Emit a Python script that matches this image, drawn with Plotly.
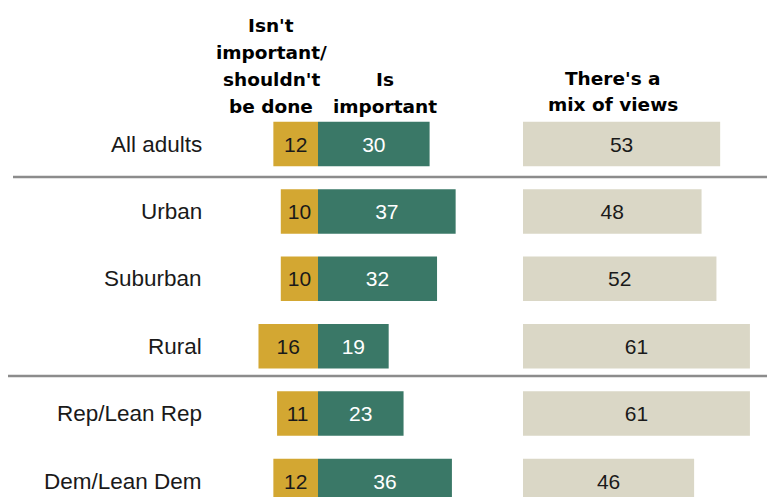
import plotly.graph_objects as go

# Survey groups and shares (%)
groups = ["All adults", "Urban", "Suburban", "Rural", "Rep/Lean Rep", "Dem/Lean Dem"]
not_important = [12, 10, 10, 16, 11, 12]
is_important = [30, 37, 32, 19, 23, 36]
mix_of_views = [53, 48, 52, 61, 61, 46]

header_not = ["Isn't", "important/", "shouldn't", "be done"]
header_is = ["Is", "important"]
header_mix = ["There's a", "mix of views"]

W, H = 767, 497
PX_PER_UNIT = 3.72
ZERO_DIV = 318      # pixel x of the diverging axis zero
ZERO_MIX = 523      # pixel x of the mix axis zero
ROW0, ROW_STEP = 144, 67.4

YELLOW = "#D3A732"
GREEN = "#3A7867"
BEIGE = "#DAD7C6"
LABEL_FONT = "Liberation Sans"
HEAD_FONT = "DejaVu Sans"

rows = list(range(len(groups)))


def bar(values, sign, color, text_color, axis):
    return go.Bar(
        y=rows, x=[sign * v for v in values], orientation="h",
        marker=dict(color=color, line=dict(width=0)),
        text=[str(v) for v in values], textposition="inside",
        insidetextanchor="middle", textangle=0, constraintext="none",
        insidetextfont=dict(family=LABEL_FONT, size=21, color=text_color),
        xaxis=axis, yaxis="y", hoverinfo="skip", width=0.66,
    )


fig = go.Figure()
fig.add_trace(bar(not_important, -1, YELLOW, "#1a1a1a", "x"))
fig.add_trace(bar(is_important, 1, GREEN, "white", "x"))
fig.add_trace(bar(mix_of_views, 1, BEIGE, "#1a1a1a", "x2"))

annotations = []
# Group labels, right-aligned left of the bars
for i, g in enumerate(groups):
    annotations.append(dict(
        x=204 / W, xref="paper", y=i, yref="y", text=g, showarrow=False,
        xanchor="right", yanchor="middle",
        font=dict(family=LABEL_FONT, size=22.5, color="#1a1a1a"),
    ))


def header(lines, cx, cy_list):
    for line, cy in zip(lines, cy_list):
        annotations.append(dict(
            x=cx / W, xref="paper", y=1 - cy / H, yref="paper", text=line,
            showarrow=False, xanchor="center", yanchor="middle",
            font=dict(family=HEAD_FONT, size=18.5, color="black", weight="bold"),
        ))


header(header_not, 271, [25, 52, 79, 106])
header(header_is, 385, [79, 106])
header(header_mix, 613, [78, 105])

# Section dividers
shapes = [
    dict(type="line", xref="paper", yref="paper", x0=13 / W, x1=1,
         y0=1 - 177 / H, y1=1 - 177 / H, line=dict(color="#8c8c8c", width=2.5)),
    dict(type="line", xref="paper", yref="paper", x0=8 / W, x1=1,
         y0=1 - 376 / H, y1=1 - 376 / H, line=dict(color="#8c8c8c", width=2.5)),
]

fig.update_layout(
    width=W, height=H, margin=dict(l=0, r=0, t=0, b=0),
    paper_bgcolor="white", plot_bgcolor="white",
    barmode="relative", showlegend=False,
    xaxis=dict(range=[-ZERO_DIV / PX_PER_UNIT, (W - ZERO_DIV) / PX_PER_UNIT],
               visible=False, fixedrange=True, domain=[0, 1]),
    xaxis2=dict(range=[-ZERO_MIX / PX_PER_UNIT, (W - ZERO_MIX) / PX_PER_UNIT],
                visible=False, fixedrange=True, overlaying="x"),
    yaxis=dict(range=[(H - ROW0) / ROW_STEP, -ROW0 / ROW_STEP],
               visible=False, fixedrange=True, domain=[0, 1]),
    annotations=annotations, shapes=shapes,
)

fig.write_html("out.html")
